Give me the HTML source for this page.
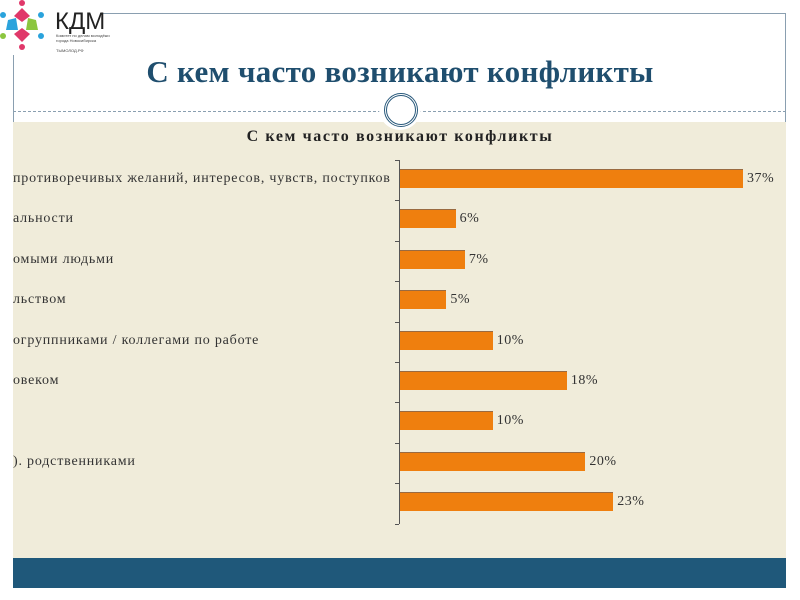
<!DOCTYPE html>
<html><head><meta charset="utf-8"><style>
body{margin:0;width:800px;height:600px;background:#fff;position:relative;overflow:hidden;font-family:"Liberation Serif",serif}
.a{position:absolute}
</style></head><body>
<div class="a" style="left:100px;top:13px;width:686px;height:1px;background:#8a9fb0"></div>
<div class="a" style="left:13px;top:55px;width:1px;height:505px;background:#8a9fb0"></div>
<div class="a" style="left:785px;top:13px;width:1px;height:547px;background:#8a9fb0"></div>
<div class="a" style="left:13px;top:122px;width:773px;height:437px;background:#f0ecda"></div>
<div class="a" style="left:13px;top:558px;width:773px;height:30px;background:#1f587a"></div>
<div class="a" style="left:13px;top:111px;width:773px;border-top:1px dashed #8a9fb0"></div>
<div class="a" style="left:379px;top:88px;width:42px;height:42px;border-radius:50%;background:#fff"></div>
<div class="a" style="left:384px;top:93px;width:28px;height:28px;border-radius:50%;border:3px double #2a5a7c"></div>
<div class="a" style="left:0;top:54px;width:800px;text-align:center;font-size:31px;font-weight:bold;color:#1f4e6e;line-height:36px;letter-spacing:0.3px">С кем часто возникают конфликты</div>
<div class="a" style="left:55px;top:8px;font-family:'Liberation Sans',sans-serif;font-size:24px;color:#222">КДМ</div>
<div class="a" style="left:56px;top:33px;font-family:'Liberation Sans',sans-serif;font-size:4px;color:#444;line-height:5px">Комитет по делам молодёжи<br>города Новосибирска<br><br>ТЫМОЛОД.РФ</div>
<svg class="a" style="left:0;top:0" width="48" height="52" viewBox="0 0 48 52">
<circle cx="22" cy="3" r="3" fill="#e0386a"/><circle cx="22" cy="47" r="3" fill="#e0386a"/>
<circle cx="3" cy="15" r="3" fill="#2aa3dc"/><circle cx="41" cy="15" r="3" fill="#2aa3dc"/>
<circle cx="3" cy="36" r="3" fill="#8cc63f"/><circle cx="41" cy="36" r="3" fill="#2aa3dc"/>
<polygon points="22,8 30,16 22,22 14,16" fill="#e0386a"/><polygon points="8,20 16,18 18,30 6,30" fill="#2aa3dc"/>
<polygon points="36,20 28,18 26,30 38,30" fill="#8cc63f"/><polygon points="22,42 30,34 22,28 14,34" fill="#e0386a"/>
</svg>
<div class="a" style="left:0;top:128px;width:800px;text-align:center;font-size:16px;font-weight:bold;color:#222;letter-spacing:1.6px">С кем часто возникают конфликты</div>
<div class="a" style="left:399px;top:160px;width:1px;height:364px;background:#555"></div>
<div id="c"></div>
<script>
var v=[37,6,7,5,10,18,10,20,23],l=["противоречивых желаний, интересов, чувств, поступков","альности","омыми людьми","льством","огруппниками / коллегами по работе","овеком","","). родственниками",""];
var h="";
for(var i=0;i<=9;i++)h+='<div class="a" style="left:395px;top:'+(160+i*40.4)+'px;width:4px;height:1px;background:#555"></div>';
for(var i=0;i<9;i++){var y=169+i*40.4,w=v[i]*9.27;
h+='<div class="a" style="left:400px;top:'+y+'px;width:'+w+'px;height:19px;background:#ef7f0e;border-top:1px solid #9a6a40;box-sizing:border-box"></div>';
h+='<div class="a" style="left:'+(404+w)+'px;top:'+(y+2)+'px;font-size:14px;color:#333;letter-spacing:0.5px">'+v[i]+'%</div>';
if(l[i])h+='<div class="a" style="left:13px;top:'+(y+2)+'px;font-size:14px;color:#333;white-space:nowrap;letter-spacing:0.8px">'+l[i]+'</div>';}
document.getElementById("c").innerHTML=h;
</script>
</body></html>
